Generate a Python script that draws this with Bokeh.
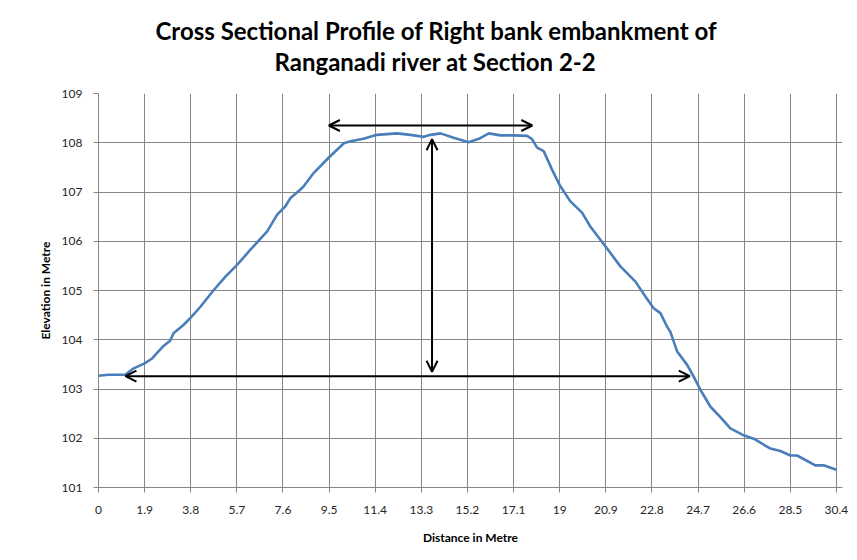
from bokeh.plotting import figure
from bokeh.models import (FixedTicker, NumeralTickFormatter, Arrow, OpenHead, Title, Range1d)
from bokeh.embed import file_html
from bokeh.resources import INLINE

# ---- data ----
distance = [0, 0.4, 0.8, 1.1, 1.45, 1.9, 2.21, 2.5, 2.69, 2.95, 3.09, 3.5, 3.8, 4.2, 4.75,
            5.23, 5.71, 6.26, 6.95, 7.36, 7.7, 7.91, 8.32, 8.46, 8.87, 9.49, 10.11, 10.38,
            10.92, 11.47, 12.3, 12.85, 13.4, 13.68, 14.09, 14.63, 15.25, 15.67, 16.08, 16.56,
            17.11, 17.66, 17.85, 18.07, 18.34, 18.68, 19.02, 19.44, 19.92, 20.26, 20.88, 21.5,
            22.12, 22.53, 22.87, 23.15, 23.42, 23.56, 23.84, 24.25, 24.52, 24.8, 25.21, 25.62,
            26.03, 26.58, 26.99, 27.68, 28.09, 28.5, 28.78, 29.53, 29.87, 30.4]
elevation = [103.27, 103.29, 103.29, 103.29, 103.42, 103.52, 103.62, 103.78, 103.88, 103.98,
             104.13, 104.30, 104.45, 104.67, 105.01, 105.28, 105.52, 105.83, 106.20, 106.54,
             106.71, 106.88, 107.05, 107.12, 107.39, 107.70, 107.99, 108.03, 108.08, 108.16,
             108.19, 108.16, 108.12, 108.16, 108.19, 108.10, 108.01, 108.08, 108.19, 108.15,
             108.15, 108.14, 108.08, 107.90, 107.83, 107.46, 107.12, 106.81, 106.58, 106.30,
             105.90, 105.49, 105.18, 104.88, 104.64, 104.54, 104.27, 104.16, 103.76, 103.49,
             103.25, 102.98, 102.64, 102.43, 102.20, 102.06, 101.99, 101.79, 101.74, 101.65,
             101.65, 101.45, 101.45, 101.36]

x_ticks = [0, 1.9, 3.8, 5.7, 7.6, 9.5, 11.4, 13.3, 15.2, 17.1, 19, 20.9, 22.8, 24.7, 26.6, 28.5, 30.4]
y_ticks = [101, 102, 103, 104, 105, 106, 107, 108, 109]

# annotation arrows: (x_start, y_start, x_end, y_end)
top_width_arrow = (9.49, 108.35, 17.87, 108.35)
height_arrow = (13.74, 108.07, 13.74, 103.35)
base_width_arrow = (1.11, 103.26, 24.36, 103.26)

title_lines = ["Cross Sectional Profile of Right bank  embankment of",
               "Ranganadi river at Section 2-2"]

GRID = "#878787"

p = figure(width=853, height=556, output_backend="svg", toolbar_location=None,
           x_range=Range1d(0, 30.65), y_range=Range1d(101, 109),
           min_border_left=98, min_border_right=11, min_border_top=93, min_border_bottom=69)
p.outline_line_color = None
p.background_fill_color = "white"
p.border_fill_color = "white"

p.line(distance, elevation, line_color="#4A7EBB", line_width=2.6)

for (xs, ys, xe, ye) in [top_width_arrow, height_arrow, base_width_arrow]:
    p.add_layout(Arrow(x_start=xs, y_start=ys, x_end=xe, y_end=ye, line_width=2,
                       line_color="black",
                       start=OpenHead(size=11, line_width=2, line_color="black"),
                       end=OpenHead(size=11, line_width=2, line_color="black")))

p.xaxis.ticker = FixedTicker(ticks=x_ticks)
p.xaxis.formatter = NumeralTickFormatter(format="0.[0]")
p.yaxis.ticker = FixedTicker(ticks=y_ticks)

for ax in [p.xaxis[0], p.yaxis[0]]:
    ax.axis_line_color = GRID
    ax.major_tick_line_color = GRID
    ax.major_tick_out = 5
    ax.major_tick_in = 0
    ax.minor_tick_line_color = None
    ax.major_label_text_font = "Lato"
    ax.major_label_text_font_size = "12px"
    ax.major_label_text_color = "#262626"
    ax.axis_label_text_font = "Lato"
    ax.axis_label_text_font_style = "bold"
    ax.axis_label_text_color = "#000000"
    ax.axis_label_text_font_size = "12px"

p.xaxis.major_label_standoff = 13
p.yaxis.major_label_standoff = 11
p.xaxis.axis_label = "Distance in Metre"
p.yaxis.axis_label = "Elevation in Metre"
p.xaxis.axis_label_standoff = 13
p.yaxis.axis_label_standoff = 6

p.xgrid.ticker = FixedTicker(ticks=x_ticks)
p.ygrid.ticker = FixedTicker(ticks=y_ticks)
p.grid.grid_line_color = GRID
p.grid.grid_line_width = 1

# two title lines, added bottom line first so the first line ends on top
offsets = [57, 176]
standoffs = [-35, 35]
for t, off, so in reversed(list(zip(title_lines, offsets, standoffs))):
    p.add_layout(Title(text=t, align="left", offset=off, text_font="Lato",
                       text_font_style="bold", text_font_size="24px", text_color="#000000",
                       standoff=so), "above")

open("out.html", "w").write(file_html(p, INLINE))
